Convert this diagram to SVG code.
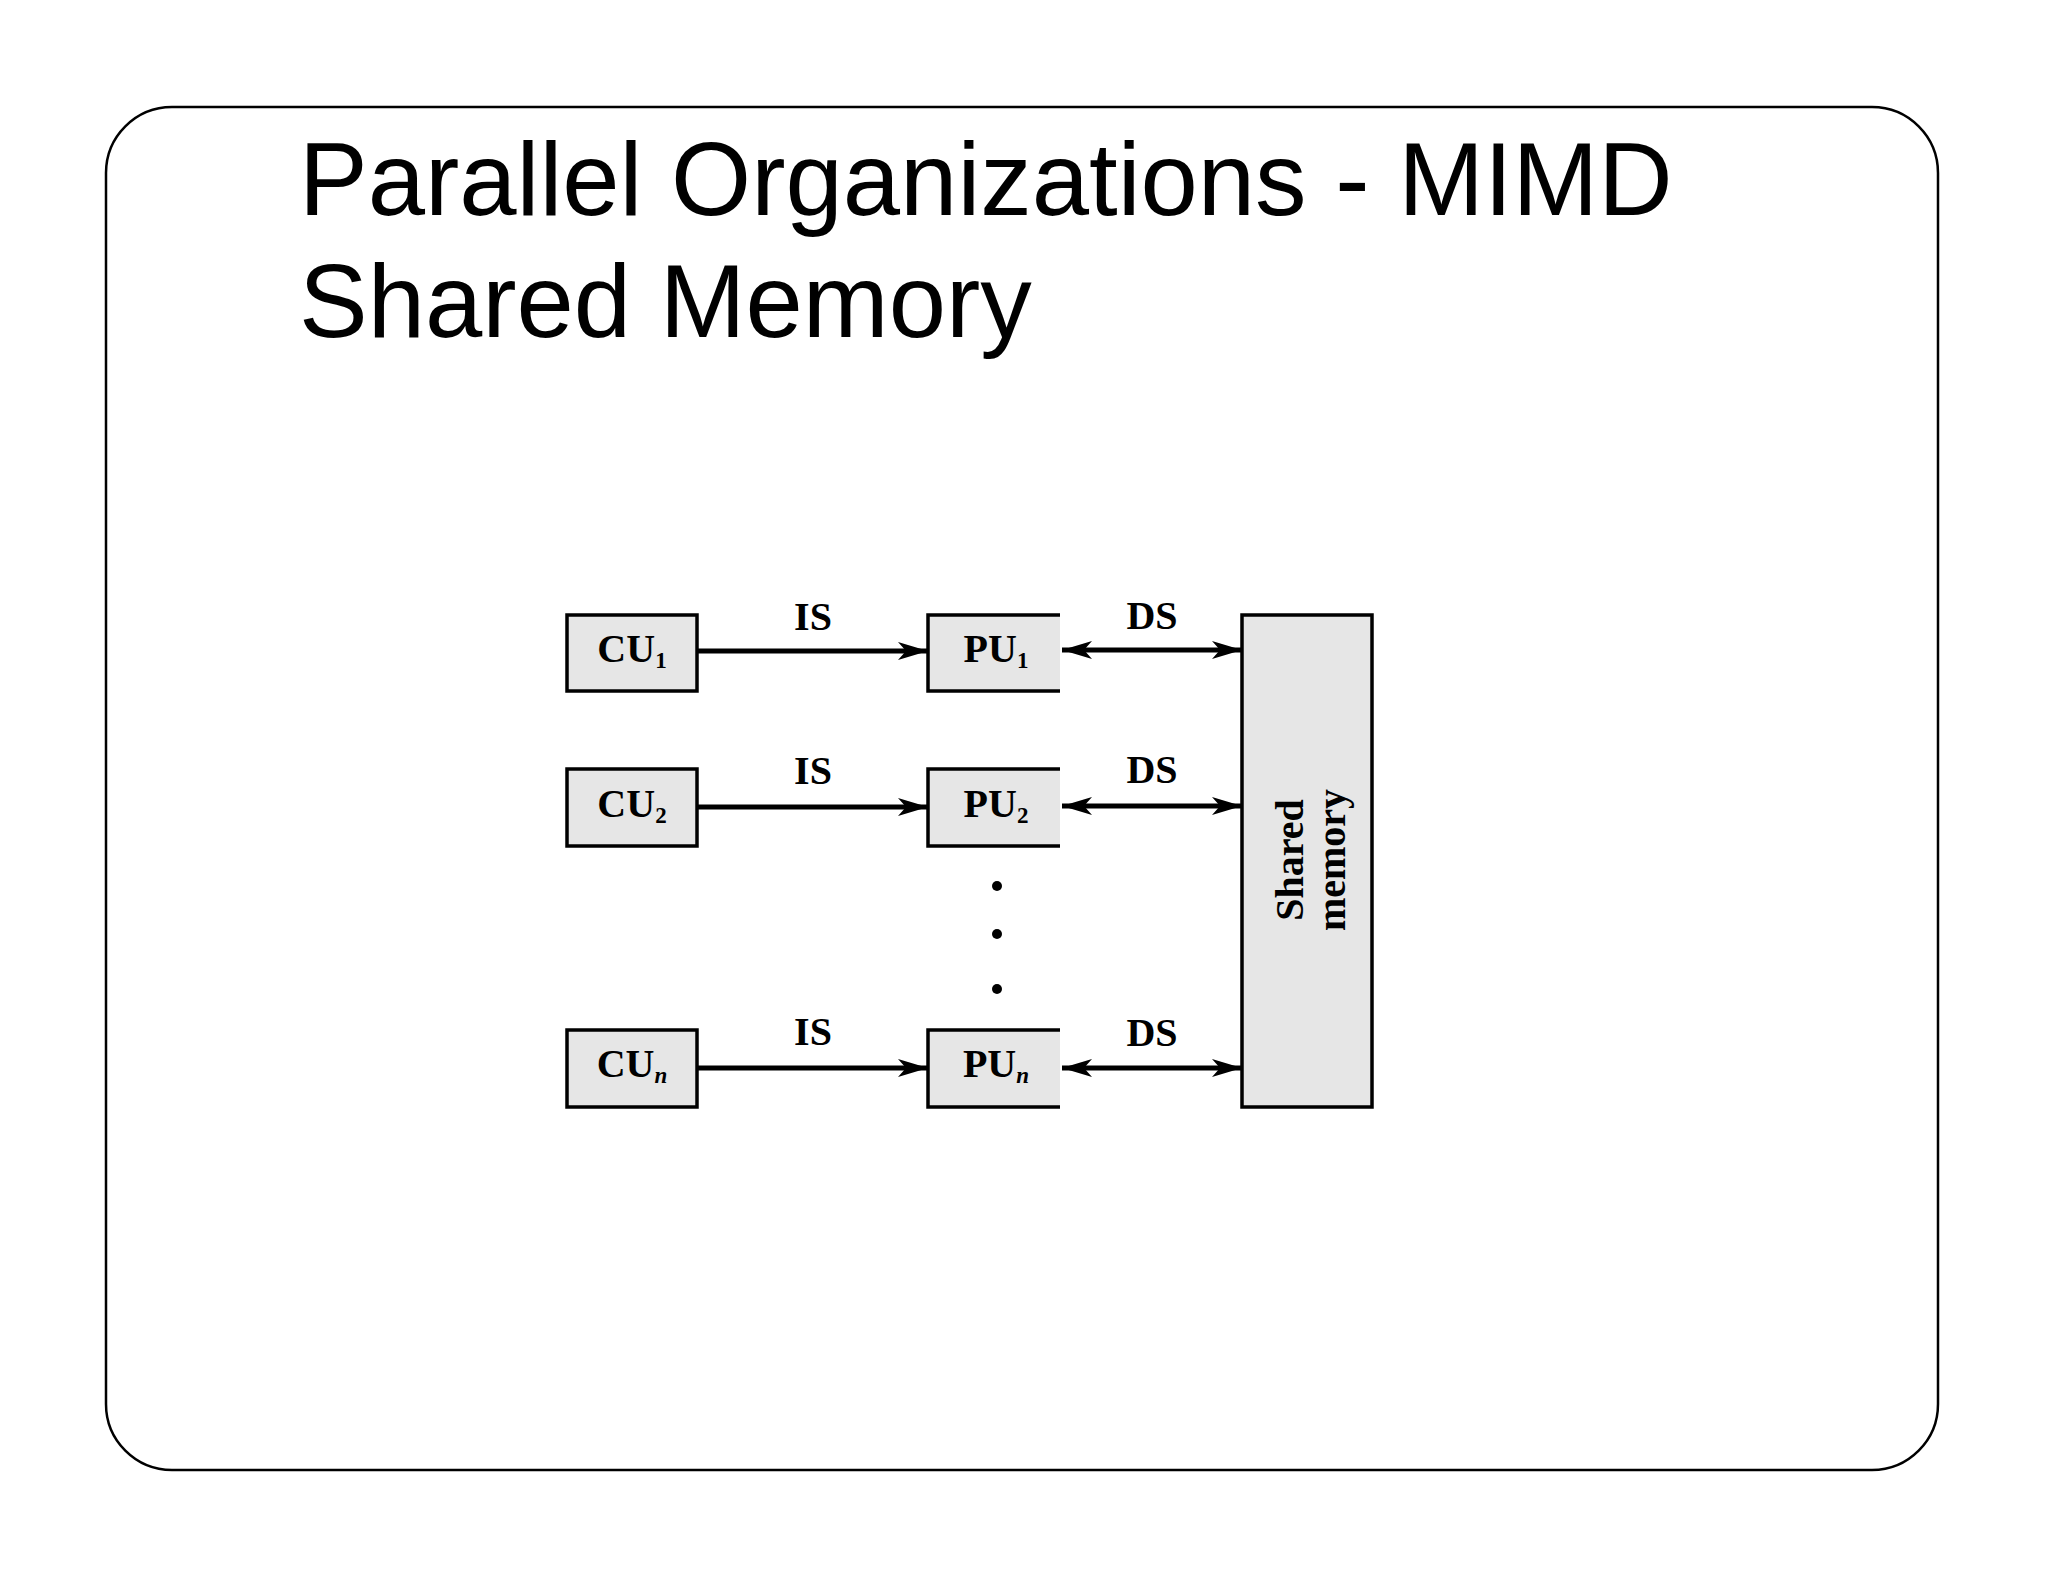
<svg xmlns="http://www.w3.org/2000/svg" width="2048" height="1582" viewBox="0 0 2048 1582">
<style>
.title{font-family:"Liberation Sans",Arial,sans-serif;font-size:103px;fill:#000}
.box{fill:#e6e6e6;stroke:#000;stroke-width:3.5}
.pufill{fill:#e6e6e6;stroke:none}
.pubord{fill:none;stroke:#000;stroke-width:3.5}
.lbl{font-family:"Liberation Serif","Times New Roman",serif;font-weight:bold;font-size:40px;fill:#000;text-anchor:middle}
.sub{font-size:23px}
.conn{stroke:#000;stroke-width:5;fill:none}
</style>
<defs>
<marker id="ah" markerWidth="32" markerHeight="22" refX="30" refY="11" orient="auto-start-reverse" markerUnits="userSpaceOnUse">
<path d="M0,2 L30,11 L0,20 L8,11 z" fill="#000"/>
</marker>
</defs>
<rect x="0" y="0" width="2048" height="1582" fill="#fff"/>
<rect id="frame" x="106" y="107" width="1832" height="1363" rx="66" ry="66" fill="none" stroke="#000" stroke-width="2.5"/>
<g id="title">
<text class="title" x="299" y="215">Parallel Organizations - MIMD</text>
<text class="title" x="299" y="337">Shared Memory</text>
</g>
<g id="cu1"><rect class="box" x="567" y="615" width="130" height="76"/><text class="lbl" x="632" y="662">CU<tspan class="sub" dy="6">1</tspan></text></g>
<g id="cu2"><rect class="box" x="567" y="769" width="130" height="77"/><text class="lbl" x="632" y="817">CU<tspan class="sub" dy="6">2</tspan></text></g>
<g id="cun"><rect class="box" x="567" y="1030" width="130" height="77"/><text class="lbl" x="632" y="1077">CU<tspan class="sub" dy="6" font-style="italic">n</tspan></text></g>
<g id="pu1"><rect class="pufill" x="928" y="615" width="132" height="76"/><path class="pubord" d="M1060,615 H928 V691 H1060"/><text class="lbl" x="996" y="662">PU<tspan class="sub" dy="6">1</tspan></text></g>
<g id="pu2"><rect class="pufill" x="928" y="769" width="132" height="77"/><path class="pubord" d="M1060,769 H928 V846 H1060"/><text class="lbl" x="996" y="817">PU<tspan class="sub" dy="6">2</tspan></text></g>
<g id="pun"><rect class="pufill" x="928" y="1030" width="132" height="77"/><path class="pubord" d="M1060,1030 H928 V1107 H1060"/><text class="lbl" x="996" y="1077">PU<tspan class="sub" dy="6" font-style="italic">n</tspan></text></g>
<g id="shared-memory"><rect class="box" x="1242" y="615" width="130" height="492"/>
<text class="lbl" font-size="42" transform="translate(1303,860) rotate(-90)">Shared</text>
<text class="lbl" font-size="42" transform="translate(1345,860) rotate(-90)">memory</text>
</g>
<g id="ellipsis" fill="#000"><circle cx="997" cy="886" r="5"/><circle cx="997" cy="934" r="5"/><circle cx="997" cy="989" r="5"/></g>
<g id="connectors">
<line class="conn" x1="697" y1="651" x2="928" y2="651" marker-end="url(#ah)"/>
<line class="conn" x1="697" y1="807" x2="928" y2="807" marker-end="url(#ah)"/>
<line class="conn" x1="697" y1="1068" x2="928" y2="1068" marker-end="url(#ah)"/>
<line class="conn" x1="1062" y1="650" x2="1242" y2="650" marker-start="url(#ah)" marker-end="url(#ah)"/>
<line class="conn" x1="1062" y1="806" x2="1242" y2="806" marker-start="url(#ah)" marker-end="url(#ah)"/>
<line class="conn" x1="1062" y1="1068" x2="1242" y2="1068" marker-start="url(#ah)" marker-end="url(#ah)"/>
<text class="lbl" x="813" y="630">IS</text>
<text class="lbl" x="813" y="784">IS</text>
<text class="lbl" x="813" y="1045">IS</text>
<text class="lbl" x="1152" y="629">DS</text>
<text class="lbl" x="1152" y="783">DS</text>
<text class="lbl" x="1152" y="1046">DS</text>
</g>
</svg>
